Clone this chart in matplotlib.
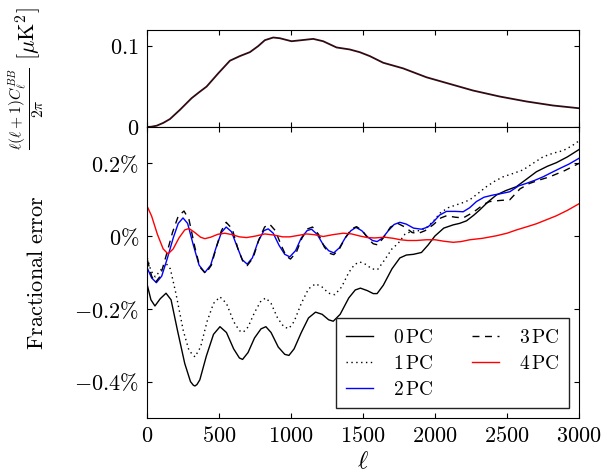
import matplotlib
matplotlib.use('Agg')
import matplotlib.pyplot as plt

# lensing BB spectrum [muK^2]
ell_bb = [0, 30, 65, 110, 157, 227, 308, 360, 412, 493, 574, 643, 713, 770, 817,
          875, 921, 1002, 1072, 1153, 1222, 1315, 1407, 1477, 1546, 1639, 1778,
          1940, 2102, 2264, 2449, 2634, 2819, 3000]
cl_bb = [0, 0.0004, 0.0016, 0.005, 0.0098, 0.0213, 0.0357, 0.043, 0.050, 0.0664,
         0.082, 0.0877, 0.0926, 0.100, 0.1074, 0.1107, 0.1098, 0.1061, 0.1074,
         0.109, 0.1061, 0.0984, 0.0959, 0.0925, 0.0877, 0.0795, 0.0725, 0.0615,
         0.0533, 0.0451, 0.0377, 0.0316, 0.0266, 0.0232]

# fractional errors in percent
ell_0 = [0, 25, 53, 90, 130, 165, 210, 260, 300, 320, 331, 345, 365, 410, 460, 505,
         550, 600, 640, 662, 700, 745, 790, 824, 860, 910, 955, 984, 1020, 1070,
         1120, 1169, 1215, 1260, 1292, 1340, 1400, 1445, 1481, 1530, 1570, 1597,
         1640, 1700, 1755, 1800, 1850, 1905, 1950, 1998, 2060, 2126, 2170, 2218,
         2270, 2310, 2370, 2426, 2490, 2565, 2640, 2704, 2780, 2843, 2920, 3000]
err_0 = [-0.135, -0.175, -0.192, -0.172, -0.157, -0.175, -0.260, -0.350, -0.400,
         -0.410, -0.412, -0.408, -0.395, -0.330, -0.270, -0.249, -0.265, -0.310,
         -0.335, -0.339, -0.320, -0.280, -0.255, -0.249, -0.265, -0.305, -0.325,
         -0.328, -0.310, -0.265, -0.225, -0.209, -0.215, -0.230, -0.234, -0.215,
         -0.170, -0.148, -0.143, -0.150, -0.158, -0.158, -0.135, -0.090, -0.060,
         -0.052, -0.050, -0.045, -0.025, 0.000, 0.022, 0.031, 0.035, 0.042, 0.058,
         0.072, 0.095, 0.113, 0.125, 0.136, 0.158, 0.177, 0.192, 0.202, 0.218,
         0.238]

ell_1 = [0, 25, 55, 90, 130, 160, 200, 250, 290, 331, 370, 415, 460, 505, 550, 600,
         640, 667, 700, 745, 790, 824, 860, 905, 950, 984, 1020, 1070, 1120, 1169,
         1215, 1260, 1303, 1350, 1400, 1440, 1477, 1520, 1560, 1600, 1650, 1700,
         1743, 1790, 1840, 1890, 1935, 1986, 2033, 2090, 2148, 2200, 2241, 2300,
         2357, 2410, 2472, 2540, 2611, 2680, 2750, 2820, 2889, 2950, 3000]
err_1 = [-0.060, -0.095, -0.112, -0.095, -0.075, -0.090, -0.160, -0.260, -0.315,
         -0.332, -0.305, -0.235, -0.185, -0.167, -0.185, -0.235, -0.260, -0.264,
         -0.250, -0.210, -0.178, -0.170, -0.185, -0.225, -0.250, -0.254, -0.235,
         -0.185, -0.145, -0.131, -0.140, -0.157, -0.161, -0.140, -0.100, -0.078,
         -0.071, -0.078, -0.090, -0.092, -0.065, -0.035, -0.020, 0.005, 0.014,
         0.015, 0.022, 0.040, 0.063, 0.078, 0.086, 0.093, 0.100, 0.118, 0.136,
         0.150, 0.163, 0.172, 0.182, 0.200, 0.218, 0.228, 0.235, 0.248, 0.262]

ell_2 = [0, 30, 63, 100, 140, 180, 215, 248, 280, 320, 360, 400, 440, 475, 515, 548,
         585, 625, 660, 694, 730, 770, 810, 840, 875, 915, 955, 990, 1030, 1070,
         1110, 1141, 1180, 1220, 1260, 1296, 1335, 1375, 1415, 1450, 1490, 1530,
         1565, 1597, 1635, 1675, 1715, 1755, 1800, 1850, 1905, 1950, 1990, 2032,
         2079, 2140, 2195, 2240, 2287, 2340, 2403, 2460, 2519, 2580, 2634, 2690,
         2750, 2810, 2866, 2930, 3000]
err_2 = [-0.088, -0.115, -0.128, -0.110, -0.060, -0.005, 0.035, 0.050, 0.035,
         -0.025, -0.080, -0.100, -0.080, -0.035, 0.010, 0.025, 0.012, -0.030,
         -0.065, -0.077, -0.060, -0.015, 0.015, 0.020, 0.008, -0.025, -0.050,
         -0.057, -0.040, -0.005, 0.015, 0.019, 0.005, -0.022, -0.040, -0.046,
         -0.032, -0.005, 0.015, 0.024, 0.015, -0.002, -0.012, -0.015, -0.005,
         0.015, 0.032, 0.038, 0.033, 0.022, 0.019, 0.025, 0.040, 0.058, 0.068,
         0.068, 0.067, 0.078, 0.095, 0.107, 0.113, 0.117, 0.122, 0.138, 0.145,
         0.153, 0.163, 0.175, 0.186, 0.198, 0.214]

ell_3 = [0, 30, 55, 90, 130, 175, 215, 255, 290, 330, 365, 405, 445, 480, 515, 548,
         590, 630, 665, 694, 735, 775, 815, 850, 890, 930, 965, 995, 1035, 1075,
         1115, 1148, 1190, 1230, 1265, 1296, 1335, 1375, 1420, 1454, 1495, 1535,
         1570, 1600, 1640, 1690, 1740, 1790, 1840, 1880, 1930, 1986, 2040, 2079,
         2140, 2195, 2240, 2287, 2340, 2379, 2450, 2519, 2590, 2657, 2730, 2796,
         2900, 3000]
err_3 = [-0.065, -0.110, -0.128, -0.110, -0.055, 0.010, 0.055, 0.069, 0.045,
         -0.030, -0.085, -0.103, -0.080, -0.030, 0.015, 0.038, 0.020, -0.035,
         -0.070, -0.081, -0.060, -0.010, 0.025, 0.033, 0.015, -0.025, -0.055,
         -0.063, -0.045, -0.005, 0.020, 0.025, 0.005, -0.030, -0.047, -0.051,
         -0.035, -0.005, 0.020, 0.026, 0.015, -0.008, -0.021, -0.024, -0.005,
         0.025, 0.035, 0.025, 0.010, 0.007, 0.015, 0.031, 0.050, 0.056, 0.052,
         0.050, 0.060, 0.072, 0.088, 0.095, 0.098, 0.100, 0.130, 0.145, 0.155,
         0.163, 0.180, 0.200]

ell_4 = [0, 30, 70, 110, 144, 180, 220, 260, 290, 330, 370, 400, 440, 490, 538, 590,
         640, 690, 750, 816, 880, 940, 990, 1050, 1106, 1160, 1222, 1290, 1361,
         1420, 1480, 1530, 1580, 1650, 1708, 1760, 1810, 1870, 1940, 2000, 2060,
         2126, 2180, 2241, 2330, 2426, 2500, 2565, 2640, 2704, 2780, 2843, 2920,
         3000]
err_4 = [0.081, 0.055, 0.005, -0.035, -0.049, -0.035, -0.005, 0.017, 0.021, 0.010,
         -0.003, -0.007, -0.003, 0.005, 0.008, 0.004, -0.002, -0.004, 0.000, 0.006,
         0.003, -0.002, -0.002, 0.002, 0.006, 0.004, -0.001, 0.004, 0.008, 0.006,
         0.000, -0.004, -0.005, -0.003, -0.006, -0.010, -0.012, -0.012, -0.010,
         -0.010, -0.014, -0.017, -0.015, -0.010, -0.006, 0.001, 0.008, 0.017,
         0.026, 0.034, 0.046, 0.056, 0.071, 0.089]

x_ticks = [0, 500, 1000, 1500, 2000, 2500, 3000]
err_ticks = [-0.4, -0.2, 0.0, 0.2]
err_tick_labels = [r'$-0.4\%$', r'$-0.2\%$', r'$0\%$', r'$0.2\%$']
legend_labels = ['0', '1', '2', '3', '4']

plt.rcParams['mathtext.fontset'] = 'cm'
plt.rcParams['xtick.direction'] = 'in'
plt.rcParams['ytick.direction'] = 'in'
plt.rcParams['xtick.top'] = True
plt.rcParams['ytick.right'] = True
plt.rcParams['xtick.major.size'] = 3.5
plt.rcParams['ytick.major.size'] = 3.5
plt.rcParams['xtick.major.pad'] = 6
plt.rcParams['ytick.major.pad'] = 6

fig = plt.figure(figsize=(6.1, 4.73), dpi=100)
ax_top = fig.add_axes([0.2415, 0.7315, 0.7077, 0.2051])
ax_bot = fig.add_axes([0.2415, 0.1163, 0.7077, 0.6152])

# top panel: the spectrum itself
ax_top.plot(ell_bb, cl_bb, color='#300a12', lw=1.3)
ax_top.set_xlim(0, 3000)
ax_top.set_ylim(0, 0.12)
ax_top.set_xticks(x_ticks)
ax_top.set_xticklabels([])
ax_top.set_yticks([0, 0.1])
ax_top.set_yticklabels([r'$0$', r'$0.1$'], fontsize=16)
ax_top.set_ylabel(r'$\frac{\ell(\ell+1)C_\ell^{BB}}{2\pi}\ [\mu\mathrm{K}^2]$',
                  fontsize=16)
ax_top.yaxis.set_label_coords(-0.232, 0.5)

# bottom panel: fractional error for 0..4 PCs
ax_bot.plot(ell_0, err_0, color='k', lw=1.0, label=r'$%s\,\mathrm{PC}$' % legend_labels[0])
ax_bot.plot(ell_1, err_1, color='k', lw=1.0, ls=(0, (1, 2.5)),
            label=r'$%s\,\mathrm{PC}$' % legend_labels[1])
ax_bot.plot(ell_2, err_2, color='b', lw=1.0, label=r'$%s\,\mathrm{PC}$' % legend_labels[2])
ax_bot.plot(ell_3, err_3, color='k', lw=1.0, ls=(0, (5, 4)),
            label=r'$%s\,\mathrm{PC}$' % legend_labels[3])
ax_bot.plot(ell_4, err_4, color='r', lw=1.0, label=r'$%s\,\mathrm{PC}$' % legend_labels[4])
ax_bot.set_xlim(0, 3000)
ax_bot.set_ylim(-0.5, 0.3)
ax_bot.set_xticks(x_ticks)
ax_bot.set_xticklabels([r'$%d$' % t for t in x_ticks], fontsize=16)
ax_bot.set_yticks(err_ticks)
ax_bot.set_yticklabels(err_tick_labels, fontsize=16)
ax_bot.set_xlabel(r'$\ell$', fontsize=18, labelpad=2)
ax_bot.set_ylabel(r'$\mathrm{Fractional\ error}$', fontsize=16)
ax_bot.yaxis.set_label_coords(-0.232, 0.5)

leg = ax_bot.legend(loc='lower right', ncol=2, fontsize=14, fancybox=False,
                    handlelength=1.4, handletextpad=1.0, columnspacing=2.0,
                    borderpad=0.5, labelspacing=0.35, framealpha=1)
leg.get_frame().set_edgecolor('#222222')
leg.get_frame().set_linewidth(1.0)

fig.savefig('out.png', dpi=100)
